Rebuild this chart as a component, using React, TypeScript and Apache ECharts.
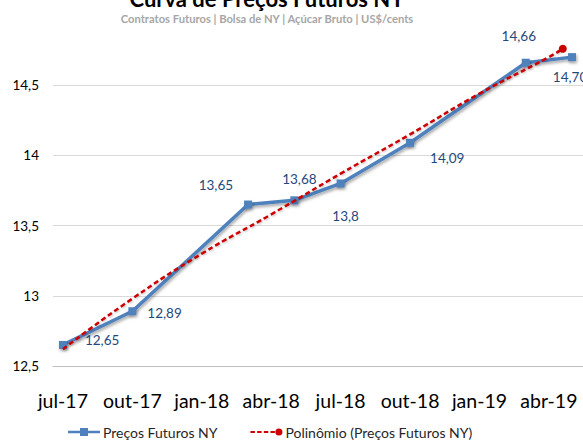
import React, { useEffect, useRef } from "react";
import * as echarts from "echarts";

const xTickLabels = ["jul-17", "out-17", "jan-18", "abr-18", "jul-18", "out-18", "jan-19", "abr-19"];
const xTickMonths = [0, 3, 6, 9, 12, 15, 18, 21];
const contractMonths = [0, 3, 8, 10, 12, 15, 20, 22]; // months since jul-17
const prices = [12.65, 12.89, 13.65, 13.68, 13.8, 14.09, 14.66, 14.7];
const priceLabels = ["12,65", "12,89", "13,65", "13,68", "13,8", "14,09", "14,66", "14,70"];
const trendMonths = [0, 3, 6, 9, 12, 15, 18, 21, 21.6];
const trendValues = [12.62, 12.98, 13.3, 13.58, 13.87, 14.15, 14.44, 14.7, 14.76];

const FONT = 'Lato, "Open Sans", sans-serif';
const BLUE = "#4f81bd";
const RED = "#cc0000";
const LABEL_BLUE = "#1f497d";

// label placement per point (style only)
const labelPlacement: any[] = [
  { position: "right", distance: 18, offset: [0, -5] },
  { position: "right", distance: 11, offset: [0, 2] },
  { position: "left", distance: 11, offset: [0, -20] },
  { position: "top", distance: 10, offset: [5, 0] },
  { position: "bottom", distance: 22, offset: [5, 0] },
  { position: "right", distance: 16, offset: [0, 15] },
  { position: "top", distance: 16, offset: [-7, 0] },
  { position: "bottom", distance: 9, offset: [-2, 0] },
];

const fmtNum = (v: number) => String(v).replace(".", ",");

export default function App() {
  const ref = useRef<HTMLDivElement>(null);
  useEffect(() => {
    if (!ref.current) return;
    const chart = echarts.init(ref.current, undefined, { renderer: "svg" });
    const priceData = contractMonths.map((m, i) => ({
      value: [m, prices[i]],
      label: {
        show: true,
        formatter: () => priceLabels[i],
        ...labelPlacement[i],
      },
    }));
    const trendData = trendMonths.map((m, i) =>
      i === trendMonths.length - 1
        ? { value: [m, trendValues[i]], symbol: "circle", symbolSize: 8 }
        : { value: [m, trendValues[i]] }
    );
    chart.setOption({
      animation: false,
      textStyle: { fontFamily: FONT },
      graphic: [
        {
          type: "text",
          x: 267,
          y: 9,
          style: {
            text: "Curva de Preços Futuros NY",
            fontFamily: FONT,
            fontSize: 22,
            fontWeight: "bold",
            fill: "#000",
            align: "center",
            verticalAlign: "bottom",
          },
        },
        {
          type: "text",
          x: 267,
          y: 18,
          style: {
            text: "Contratos Futuros | Bolsa de NY | Açúcar Bruto | US$/cents",
            fontFamily: FONT,
            fontSize: 11.2,
            fontWeight: "bold",
            fill: "#a6a6a6",
            align: "center",
            verticalAlign: "middle",
          },
        },
      ],
      legend: {
        left: 68,
        top: 425,
        itemWidth: 32,
        itemHeight: 10,
        itemGap: 33,
        padding: 0,
        textStyle: { fontFamily: FONT, fontSize: 14, color: "#262626", padding: [0, 0, 0, -2] },
        data: [
          { name: "Preços Futuros NY", icon: "path://M0,3.8h32v2.4H0z M12,1h8v8h-8z" },
          {
            name: "Polinômio (Preços Futuros NY)",
            icon: "path://M0,4h5v2H0z M7.5,4h5v2h-5z M15,4h5v2h-5z M22.5,4h5v2h-5z M28,5a4,4 0 1,0 8,0a4,4 0 1,0 -8,0z",
          },
        ],
      },
      grid: { left: 53, right: 10.6, top: 15, bottom: 77 },
      xAxis: {
        type: "value",
        min: -0.43,
        max: 22.75,
        splitLine: { show: false },
        axisTick: { show: false },
        axisLine: { show: true, lineStyle: { color: "#bfbfbf", width: 1 } },
        axisLabel: {
          customValues: xTickMonths,
          formatter: (v: number) => {
            const idx = xTickMonths.indexOf(Math.round(v));
            return idx >= 0 ? xTickLabels[idx] : "";
          },
          fontSize: 19.5,
          color: "#000",
          margin: 24,
          fontFamily: FONT,
        },
      },
      yAxis: {
        type: "value",
        min: 12.5,
        max: 15,
        interval: 0.5,
        axisLine: { show: false },
        axisTick: { show: false },
        splitLine: { show: true, showMaxLine: false, showMinLine: false, lineStyle: { color: "#d9d9d9", width: 1 } },
        axisLabel: {
          showMaxLabel: false,
          formatter: (v: number) => fmtNum(v),
          fontSize: 13.5,
          color: "#000",
          margin: 14,
          fontFamily: FONT,
        },
      },
      series: [
        {
          name: "Preços Futuros NY",
          type: "line",
          data: priceData,
          symbol: "rect",
          symbolSize: 8,
          color: BLUE,
          lineStyle: {
            color: BLUE,
            width: 3.5,
            shadowColor: "rgba(0,0,0,0.35)",
            shadowBlur: 3,
            shadowOffsetX: 1,
            shadowOffsetY: 2,
          },
          itemStyle: { color: BLUE, shadowColor: "rgba(0,0,0,0.35)", shadowBlur: 3, shadowOffsetX: 1, shadowOffsetY: 2 },
          label: { fontSize: 13.5, color: LABEL_BLUE, fontFamily: FONT },
          z: 2,
        },
        {
          name: "Polinômio (Preços Futuros NY)",
          type: "line",
          data: trendData,
          smooth: true,
          symbol: "none",
          showSymbol: true,
          color: RED,
          lineStyle: {
            color: RED,
            width: 2.5,
            type: [5, 3],
            shadowColor: "rgba(0,0,0,0.25)",
            shadowBlur: 2,
            shadowOffsetX: 1,
            shadowOffsetY: 1,
          },
          itemStyle: { color: RED },
          z: 3,
        },
      ],
    });
    return () => chart.dispose();
  }, []);
  return (
    <div
      style={{
        position: "fixed",
        left: 0,
        top: 0,
        width: 583,
        height: 443,
        overflow: "hidden",
        background: "#fff",
      }}
    >
      <div ref={ref} style={{ width: 600, height: 443 }} />
    </div>
  );
}
